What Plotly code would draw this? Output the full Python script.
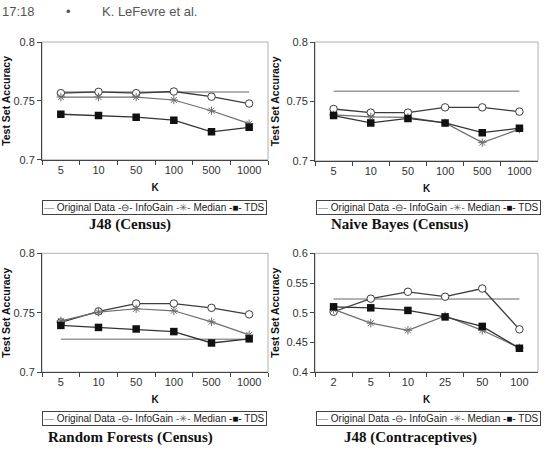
import plotly.graph_objects as go

W, H = 547, 455

# ---------------- data ----------------
K_CENSUS = ["5", "10", "50", "100", "500", "1000"]
K_CONTRA = ["2", "5", "10", "25", "50", "100"]

J48_CENSUS_ORIGINAL = [0.7575, 0.7575, 0.7575, 0.7575, 0.7575, 0.7575]
J48_CENSUS_INFOGAIN = [0.7566, 0.7577, 0.7566, 0.7580, 0.7536, 0.7478]
J48_CENSUS_MEDIAN = [0.7533, 0.7533, 0.7533, 0.7508, 0.7417, 0.7307]
J48_CENSUS_TDS = [0.7387, 0.7376, 0.7362, 0.7337, 0.7238, 0.7276]

NB_CENSUS_ORIGINAL = [0.7586, 0.7586, 0.7586, 0.7586, 0.7586, 0.7586]
NB_CENSUS_INFOGAIN = [0.7436, 0.7406, 0.7406, 0.7450, 0.7450, 0.7414]
NB_CENSUS_MEDIAN = [0.7387, 0.7370, 0.7365, 0.7319, 0.7153, 0.7267]
NB_CENSUS_TDS = [0.7381, 0.7319, 0.7357, 0.7319, 0.7237, 0.7275]

RF_CENSUS_ORIGINAL = [0.7277, 0.7277, 0.7277, 0.7277, 0.7277, 0.7277]
RF_CENSUS_INFOGAIN = [0.7418, 0.7511, 0.7577, 0.7577, 0.7541, 0.7486]
RF_CENSUS_MEDIAN = [0.7431, 0.7505, 0.7533, 0.7516, 0.7423, 0.7313]
RF_CENSUS_TDS = [0.7393, 0.7376, 0.7363, 0.7341, 0.7245, 0.7280]

J48_CONTRA_ORIGINAL = [0.5230, 0.5230, 0.5230, 0.5230, 0.5230, 0.5230]
J48_CONTRA_INFOGAIN = [0.5016, 0.5236, 0.5352, 0.5269, 0.5407, 0.4720]
J48_CONTRA_MEDIAN = [0.5055, 0.4824, 0.4703, 0.4945, 0.4703, 0.4407]
J48_CONTRA_TDS = [0.5099, 0.5082, 0.5038, 0.4929, 0.4769, 0.4401]

SERIES_NAMES = ["Original Data", "InfoGain", "Median", "TDS"]
PANEL_TITLES = ["J48 (Census)", "Naive Bayes (Census)",
                "Random Forests (Census)", "J48 (Contraceptives)"]
Y_TICKS_CENSUS = [0.7, 0.75, 0.8]
Y_TICKS_CONTRA = [0.4, 0.45, 0.5, 0.55, 0.6]

# ---------------- layout helpers ----------------
def fx(px):
    return px / W

def fy(py):
    return 1 - py / H

panels = [
    dict(cats=K_CENSUS, series=[J48_CENSUS_ORIGINAL, J48_CENSUS_INFOGAIN, J48_CENSUS_MEDIAN, J48_CENSUS_TDS],
         yticks=Y_TICKS_CENSUS, box=(42, 268, 37, 158), title_xy=(130, 224), leg=(154.5, 206.5)),
    dict(cats=K_CENSUS, series=[NB_CENSUS_ORIGINAL, NB_CENSUS_INFOGAIN, NB_CENSUS_MEDIAN, NB_CENSUS_TDS],
         yticks=Y_TICKS_CENSUS, box=(315, 538, 37, 159), title_xy=(400, 224), leg=(428, 206.5)),
    dict(cats=K_CENSUS, series=[RF_CENSUS_ORIGINAL, RF_CENSUS_INFOGAIN, RF_CENSUS_MEDIAN, RF_CENSUS_TDS],
         yticks=Y_TICKS_CENSUS, box=(42, 268, 254, 376), title_xy=(130, 443), leg=(154.5, 424)),
    dict(cats=K_CONTRA, series=[J48_CONTRA_ORIGINAL, J48_CONTRA_INFOGAIN, J48_CONTRA_MEDIAN, J48_CONTRA_TDS],
         yticks=Y_TICKS_CONTRA, box=(315, 538, 254, 376), title_xy=(410, 443), leg=(428, 424)),
]

styles = [
    dict(mode="lines", line=dict(color="#9a9a9a", width=1.5)),
    dict(mode="lines+markers", line=dict(color="#3c3c3c", width=1.3),
         marker=dict(symbol="circle", size=7.5, color="white", line=dict(color="#3c3c3c", width=1))),
    dict(mode="lines+markers", line=dict(color="#6e6e6e", width=1.2),
         marker=dict(symbol="asterisk-open", size=7, line=dict(color="#555555", width=1))),
    dict(mode="lines+markers", line=dict(color="#333333", width=1.3),
         marker=dict(symbol="square", size=7.5, color="#111111", line=dict(color="#111111", width=0))),
]

FONT = "Liberation Sans, Arial, sans-serif"
fig = go.Figure()
annotations = []
shapes = []
layout = {}

legend_text = ('<span style="color:#9a9a9a">—</span> Original Data '
               '<span style="color:#3c3c3c">-⊖-</span> InfoGain '
               '<span style="color:#666666">-✳-</span> Median '
               '<span style="color:#111111">-■-</span> TDS')

for i, p in enumerate(panels):
    n = "" if i == 0 else str(i + 1)
    xa, ya = "x" + n, "y" + n
    for name, vals, st in zip(SERIES_NAMES, p["series"], styles):
        fig.add_trace(go.Scatter(x=p["cats"], y=vals, name=name, xaxis=xa, yaxis=ya,
                                 showlegend=False, hoverinfo="x+y+name", **st))
    x0, x1, y0, y1 = p["box"]
    layout["xaxis" + n] = dict(
        domain=[fx(x0), fx(x1)], anchor=ya, type="category",
        categoryorder="array", categoryarray=p["cats"],
        range=[-0.5, len(p["cats"]) - 0.5], tickson="boundaries",
        ticks="outside", ticklen=4, tickcolor="#444", showline=True, linecolor="#444",
        linewidth=1, showgrid=False, zeroline=False,
        tickfont=dict(family=FONT, size=11, color="#333"),
        title=dict(text="K", font=dict(family=FONT, size=10, color="#111", weight="bold"), standoff=8),
    )
    layout["yaxis" + n] = dict(
        domain=[fy(y1), fy(y0)], anchor=xa,
        range=[p["yticks"][0], p["yticks"][-1]], tickvals=p["yticks"],
        ticktext=[("%g" % v) for v in p["yticks"]],
        ticks="outside", ticklen=4, tickcolor="#444", showline=True, linecolor="#444",
        linewidth=1, showgrid=False, zeroline=False,
        tickfont=dict(family=FONT, size=11, color="#333"),
        title=dict(text="Test Set Accuracy", font=dict(family=FONT, size=10.5, color="#111", weight="bold"),
                   standoff=4),
    )
    shapes.append(dict(type="rect", xref=xa + " domain", yref=ya + " domain", x0=0, x1=1, y0=0, y1=1,
                       line=dict(color="#b0b0b0", width=1), layer="below"))
    tx, ty = p["title_xy"]
    annotations.append(dict(text="<b>%s</b>" % PANEL_TITLES[i], x=fx(tx), y=fy(ty), xref="paper", yref="paper",
                            showarrow=False, xanchor="center", yanchor="middle",
                            font=dict(family="Liberation Serif, Times New Roman, serif", size=15, color="#111")))
    lx, ly = p["leg"]
    annotations.append(dict(text=legend_text, x=fx(lx), y=fy(ly), xref="paper", yref="paper",
                            showarrow=False, xanchor="center", yanchor="middle",
                            bordercolor="#444", borderwidth=1, borderpad=1, bgcolor="white",
                            font=dict(family=FONT, size=10, color="#222")))

# running header
annotations += [
    dict(text="17:18", x=0, y=fy(6), xref="paper", yref="paper", showarrow=False,
         xanchor="left", yanchor="middle", font=dict(family=FONT, size=13, color="#555")),
    dict(text="•", x=fx(68), y=fy(6), xref="paper", yref="paper", showarrow=False,
         xanchor="center", yanchor="middle", font=dict(family=FONT, size=13, color="#555")),
    dict(text="K. LeFevre et al.", x=fx(100), y=fy(6), xref="paper", yref="paper", showarrow=False,
         xanchor="left", yanchor="middle", font=dict(family=FONT, size=13, color="#555")),
]

fig.update_layout(
    width=W, height=H, margin=dict(l=0, r=0, t=0, b=0),
    paper_bgcolor="white", plot_bgcolor="white", showlegend=False,
    annotations=annotations, shapes=shapes, **layout,
)
fig.write_html("out.html")
